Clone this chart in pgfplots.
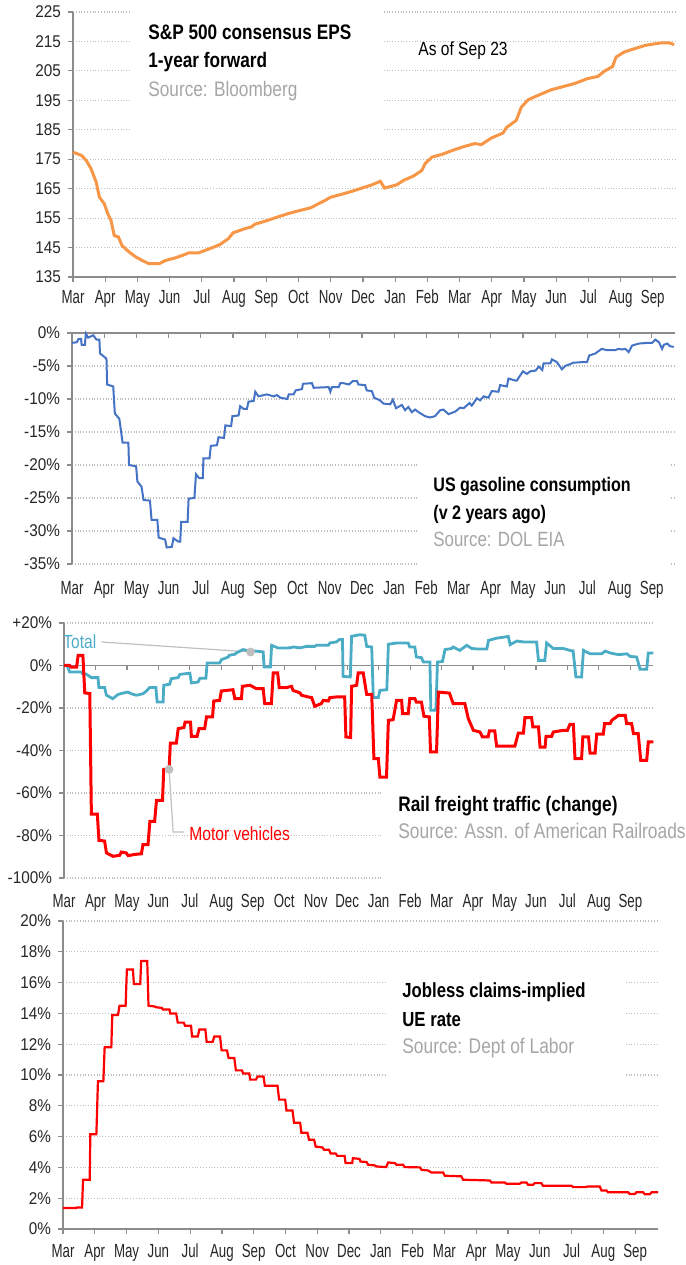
\documentclass[border=0pt]{standalone}
\usepackage{fontspec}
\setmainfont[FakeStretch=0.82]{Liberation Sans}
\newfontfamily\xtickfont[FakeStretch=0.7]{Liberation Sans}
\newfontfamily\ytickfont[FakeStretch=0.9]{Liberation Sans}
\usepackage{pgfplots}
\pgfplotsset{compat=1.18}
\definecolor{axgray}{HTML}{8C8C8C}
\definecolor{gridgray}{HTML}{BDBDBD}
\definecolor{epsorange}{HTML}{F79646}
\definecolor{gasblue}{HTML}{4472C4}
\definecolor{railteal}{HTML}{4BACC6}
\definecolor{srcgray}{HTML}{A6A6A6}
\definecolor{ticktext}{HTML}{262626}
\definecolor{leadgray}{HTML}{BFBFBF}
\pgfplotsset{
  panel/.style={
    scale only axis, anchor=south west, xmin=0, xmax=18.72,
    xtick={0,...,18},
    xticklabels={Mar,Apr,May,Jun,Jul,Aug,Sep,Oct,Nov,Dec,Jan,Feb,Mar,Apr,May,Jun,Jul,Aug,Sep},
    ymajorgrids, major grid style={densely dotted, gridgray, line width=0.6pt},
    tick align=outside, major tick length=2.5pt,
    every tick/.style={axgray, line width=0.6pt},
    axis line style={axgray, line width=0.65pt},
    xticklabel style={font=\xtickfont\fontsize{9.5}{11}\selectfont, text=ticktext},
    yticklabel style={font=\ytickfont\fontsize{8.5}{10}\selectfont, text=ticktext},
    axis y line*=left, axis x line*=bottom,
    clip=false,
  },
  hiddenx/.style={x axis line style={draw=none}, xtick style={draw=none}},
}
\begin{document}
\begin{tikzpicture}
\useasboundingbox (0,0) rectangle (343pt,632.5pt);
% ---------------- Panel 1: EPS
\begin{axis}[panel, at={(36.5pt,494pt)}, width=301.5pt, height=132.5pt,
  xticklabel shift=0.5pt,
  ymin=135, ymax=225, ytick={135,145,...,225},
  yticklabels={135,145,155,165,175,185,195,205,215,225}]
\fill[white] (axis cs:1.76,227.4) rectangle (axis cs:9.59,179.8);
\addplot[epsorange, line width=1.5pt] coordinates {
(0,177.4) (0.26,176.3) (0.41,174.6) (0.56,171.8) (0.72,167.2) (0.82,162.1) (0.97,159.9) (1.08,156.5) (1.18,154.2) (1.28,149.1) (1.41,148.6) (1.52,145.7) (1.74,143.5) (1.95,141.8) (2.15,140.6) (2.36,139.5) (2.67,139.5) (2.87,140.6) (3.18,141.5) (3.49,142.7) (3.59,143.2) (3.9,143.2) (4.31,144.9) (4.56,146) (4.82,148) (4.97,150) (5.33,151.4) (5.54,152) (5.64,152.9) (5.95,153.9) (6.36,155.4) (6.67,156.5) (6.97,157.4) (7.38,158.5) (7.59,159.7) (7.79,160.8) (8.0,162.1) (8.31,163.0) (8.66,164.1) (8.97,165.2) (9.28,166.3) (9.54,167.5) (9.67,165.2) (10.05,166.3) (10.26,167.8) (10.57,169.3) (10.83,171.2) (10.93,173.5) (11.14,175.7) (11.44,176.6) (11.86,178.3) (12.17,179.4) (12.47,180.3) (12.68,180.0) (12.99,182.2) (13.35,183.9) (13.45,185.7) (13.76,188.2) (13.92,192.7) (14.13,195.2) (14.44,196.7) (14.85,198.6) (15.16,199.5) (15.57,200.7) (15.98,202.4) (16.29,203.1) (16.5,204.9) (16.75,206.5) (16.86,209.7) (17.11,211.4) (17.42,212.5) (17.78,213.7) (18.25,214.5) (18.51,214.5) (18.66,213.9)};
\end{axis}
% ---------------- Panel 2: gasoline
\begin{axis}[panel, hiddenx, at={(36pt,350.5pt)}, width=301.5pt, height=115.5pt,
  xticklabel shift=2.5pt,
  ymin=-35, ymax=0, ytick={-35,-30,...,0},
  yticklabels={-35\%,-30\%,-25\%,-20\%,-15\%,-10\%,-5\%,0\%}]
\fill[white] (axis cs:10.76,-16.97) rectangle (axis cs:18.53,-35.6);
\draw[axgray, line width=0.65pt] (axis cs:0,0) -- (axis cs:18.72,0);
\pgfplotsinvokeforeach{1,...,18}{\draw[axgray, line width=0.6pt] (axis cs:#1,0) -- ++(0pt,-2.5pt);}
\addplot[gasblue, line width=1pt] coordinates {
(0,-1.5) (0.15,-1.4) (0.2,-0.9) (0.28,-0.9) (0.3,-1.8) (0.4,-1.8) (0.43,-0.1) (0.5,-0.7) (0.66,-0.35) (0.76,-1.0) (0.85,-1.0) (0.87,-3.1) (1.0,-3.6) (1.07,-3.9) (1.09,-7.8) (1.28,-8.1) (1.33,-12.2) (1.47,-13.0) (1.57,-16.6) (1.75,-16.6) (1.77,-20.0) (1.99,-20.2) (2.03,-22.5) (2.16,-23.3) (2.22,-25.3) (2.42,-25.4) (2.47,-28.3) (2.65,-28.3) (2.69,-31.0) (2.89,-31.3) (2.94,-32.5) (3.1,-32.4) (3.15,-31.1) (3.3,-31.6) (3.36,-31.6) (3.39,-28.6) (3.59,-28.6) (3.62,-25.1) (3.8,-25.0) (3.85,-21.4) (3.95,-22.0) (4.06,-22.0) (4.08,-19.0) (4.27,-19.0) (4.31,-17.1) (4.5,-17.0) (4.55,-15.8) (4.72,-15.9) (4.76,-14.0) (4.94,-14.1) (4.98,-12.6) (5.17,-12.5) (5.22,-11.1) (5.33,-11.5) (5.43,-11.5) (5.48,-10.4) (5.64,-10.3) (5.69,-8.9) (5.79,-9.6) (6.05,-9.3) (6.26,-9.6) (6.36,-9.4) (6.47,-9.8) (6.68,-10.0) (6.73,-9.3) (6.88,-9.3) (6.94,-8.7) (7.14,-8.5) (7.17,-7.7) (7.45,-7.6) (7.5,-8.3) (7.97,-8.2) (8.02,-8.9) (8.07,-8.2) (8.28,-8.2) (8.33,-7.6)
(8.42,-7.6) (8.6,-7.8) (8.71,-7.3) (8.85,-7.3) (8.89,-7.8) (9.1,-7.9) (9.15,-8.7) (9.31,-8.8) (9.38,-9.8) (9.56,-10.2) (9.67,-10.7) (9.88,-10.8) (9.96,-10.1) (10.06,-11.4) (10.24,-10.9) (10.34,-11.7) (10.44,-11.2) (10.55,-12.0) (10.65,-11.6) (10.76,-12.0) (10.96,-12.6) (11.11,-12.8) (11.27,-12.6) (11.43,-11.7) (11.53,-11.6) (11.69,-12.3) (11.9,-11.9) (12.05,-11.3) (12.16,-11.4) (12.34,-10.6) (12.41,-11.0) (12.57,-9.9) (12.67,-10.2) (12.78,-9.6) (12.93,-9.8) (13.03,-8.8) (13.24,-8.9) (13.29,-7.9) (13.5,-8.1) (13.55,-6.9) (13.76,-7.2) (13.81,-7.2) (14.0,-5.8) (14.12,-6.2) (14.23,-5.8) (14.39,-5.7) (14.49,-5.1) (14.6,-5.6) (14.64,-4.6) (14.85,-4.6) (14.9,-4.0) (15.05,-4.4) (15.21,-5.5) (15.31,-5.0) (15.47,-4.7) (15.57,-4.5) (15.88,-4.4) (15.99,-4.4) (16.06,-3.4) (16.25,-3.1) (16.3,-2.9) (16.45,-2.4) (16.6,-2.6) (16.86,-2.6) (16.97,-2.4) (17.07,-2.5) (17.18,-2.4) (17.28,-2.9) (17.39,-1.9) (17.6,-1.6) (17.86,-1.5) (18.01,-1.5) (18.11,-1.0) (18.22,-1.4) (18.32,-2.4) (18.37,-1.8) (18.48,-1.6) (18.56,-2.0) (18.68,-2.1)};
\end{axis}
% ---------------- Panel 3: rail
\begin{axis}[panel, hiddenx, at={(32pt,193.5pt)}, width=294.5pt, height=127.5pt,
  xticklabel shift=2pt,
  ymin=-100, ymax=20, ytick={-100,-80,...,20},
  yticklabels={-100\%,-80\%,-60\%,-40\%,-20\%,0\%,+20\%}]
\fill[white] (axis cs:10.11,-46.8) rectangle (axis cs:19.78,-101.4);
\draw[axgray, line width=0.65pt] (axis cs:0,0) -- (axis cs:18.72,0);
\pgfplotsinvokeforeach{1,...,18}{\draw[axgray, line width=0.6pt] (axis cs:#1,0) -- ++(0pt,-2.5pt);}
\draw[leadgray, line width=0.6pt] (axis cs:1.19,11.06) -- (axis cs:5.93,6.35);
\draw[leadgray, line width=0.6pt] (axis cs:3.34,-48.9) -- (axis cs:3.47,-78.4) -- (axis cs:3.82,-78.4);
\addplot[railteal, line width=1.4pt] coordinates {
(0,0) (0.1,0) (0.18,-3.1) (0.55,-3.1) (0.6,-4.0) (0.7,-4.0) (0.87,-5.7) (1.08,-5.7) (1.11,-10.4) (1.29,-10.4) (1.35,-14.0) (1.55,-15.6) (1.72,-13.6) (1.87,-13.0) (2.03,-12.5) (2.14,-13.3) (2.3,-14.0) (2.51,-13.3) (2.62,-12.0) (2.72,-10.4) (2.92,-10.4) (2.96,-17.2) (3.15,-17.2) (3.17,-9.3) (3.36,-8.8) (3.41,-6.2) (3.63,-5.7) (3.68,-4.2) (4.0,-3.6) (4.05,-8.2) (4.26,-7.8) (4.32,-6.0) (4.51,-6.0) (4.55,1.2) (4.95,1.2) (5.0,2.7) (5.22,4.0) (5.25,4.8) (5.43,5.3) (5.48,5.9) (5.69,7.5) (6.01,6.4) (6.07,6.8) (6.33,6.4) (6.36,-0.7) (6.56,-0.7) (6.6,9.5) (6.81,8.2) (7.18,8.3) (7.29,8.7) (7.5,8.3) (7.71,9.0) (7.97,9.0) (8.02,9.5) (8.4,9.5) (8.45,10.6) (8.66,11.1) (8.75,12.2) (8.85,12.2) (8.87,-5.1) (9.1,-5.4) (9.14,13.7) (9.4,14.5) (9.56,14.2) (9.62,9.0) (9.78,8.7) (9.83,-15.1) (9.99,-15.1) (10.04,-11.7) (10.26,-11.4) (10.31,10.0) (10.57,10.6) (10.94,10.6) (10.99,8.7) (11.15,8.7) (11.2,4.0) (11.36,3.7) (11.42,1.6) (11.63,1.6) (11.66,-21.1) (11.82,-21.1) (11.87,1.6) (12.03,1.9) (12.11,7.5) (12.32,8.0) (12.37,8.7) (12.58,7.1) (12.8,9.5) (12.96,8.0) (13.12,7.8) (13.44,7.8) (13.49,11.8) (13.76,12.9) (13.97,13.3) (14.12,13.7) (14.18,9.8) (14.39,11.5) (14.6,11.1) (15.02,11.1) (15.08,2.4) (15.28,2.4) (15.34,10.6) (15.55,8.0) (15.87,8.0) (16.13,6.9) (16.18,6.9) (16.27,-5.4) (16.45,-5.4) (16.51,7.1) (16.72,5.5) (17.09,5.5) (17.2,6.8) (17.36,5.9) (17.62,5.1) (17.89,5.5) (17.99,4.3) (18.2,4.0) (18.31,-1.8) (18.52,-1.8) (18.57,5.9) (18.73,5.9)};
\addplot[red, line width=1.5pt] coordinates {
(0,0) (0.18,0) (0.23,-0.8) (0.4,-0.8) (0.45,4.8) (0.6,4.8) (0.66,-12.9) (0.82,-13.2) (0.87,-70) (1.06,-70) (1.11,-82.3) (1.29,-82.6) (1.35,-88.2) (1.56,-89.8) (1.77,-89.3) (1.82,-87.8) (1.98,-88.2) (2.04,-89.5) (2.25,-88.9) (2.46,-88.6) (2.51,-84.3) (2.67,-84.3) (2.73,-73.3) (2.88,-73.3) (2.94,-63.5) (3.13,-63.5) (3.17,-48.9) (3.34,-48.9) (3.38,-36.5) (3.57,-36.5) (3.63,-29.7) (3.81,-29.2) (3.85,-26.6) (4.02,-26.6) (4.05,-33.3) (4.23,-33.3) (4.29,-29.7) (4.47,-29.7) (4.53,-24.2) (4.72,-24.2) (4.76,-16.7) (4.95,-16.4) (5.0,-12.0) (5.37,-11.4) (5.43,-15.6) (5.64,-15.6) (5.67,-9.8) (5.91,-9.3) (6.12,-10.9) (6.33,-10.9) (6.38,-18.0) (6.59,-18.0) (6.65,-3.5) (6.79,-3.5) (6.84,-10.4) (7.07,-10.4) (7.23,-9.8) (7.28,-11.7) (7.5,-12.9) (7.55,-14.0) (7.76,-14.8) (7.87,-15.1) (7.97,-19.2) (8.18,-17.9) (8.24,-16.4) (8.4,-16.7) (8.45,-15.1) (8.66,-14.8) (8.92,-14.8) (8.96,-33.6) (9.11,-33.9) (9.14,-9.8) (9.3,-9.3) (9.35,-3.5) (9.51,-3.5) (9.62,-13.6) (9.78,-13.6) (9.85,-43.8) (9.99,-43.8) (10.04,-52.5) (10.25,-52.5) (10.31,-25.8) (10.46,-25.5) (10.57,-16.4) (10.73,-16.4) (10.76,-22.7) (10.94,-22.7) (10.99,-15.6) (11.15,-15.6) (11.2,-17.2) (11.36,-17.2) (11.44,-23.9) (11.61,-24.2) (11.65,-40.7) (11.84,-40.7) (11.9,-12.5) (12.25,-13.0) (12.37,-18.0) (12.74,-18.0) (12.85,-25.0) (13.01,-30.5) (13.22,-31.3) (13.3,-33.6) (13.48,-33.6) (13.52,-30.8) (13.69,-30.8) (13.75,-37.9) (14.33,-37.9) (14.44,-31.8) (14.6,-31.8) (14.65,-24.5) (14.86,-24.5) (14.9,-28.9) (15.08,-28.9) (15.13,-38.4) (15.29,-38.4) (15.32,-33.3) (15.5,-33.3) (15.55,-31.3) (15.87,-30.5) (16.0,-30.5) (16.08,-27.7) (16.19,-27.7) (16.24,-43.8) (16.45,-43.8) (16.49,-33.6) (16.67,-33.6) (16.72,-41.2) (16.88,-41.2) (16.93,-32.3) (17.14,-32.3) (17.18,-27.3) (17.36,-27.3) (17.41,-25.8) (17.62,-23.5) (17.84,-23.5) (17.88,-27.3) (18.04,-27.3) (18.1,-32.1) (18.25,-32.1) (18.33,-44.6) (18.52,-44.6) (18.57,-36.0) (18.73,-36.0)};
\addplot[only marks, mark=*, mark size=2pt, color=leadgray] coordinates {(5.93,6.35) (3.34,-48.9)};
\end{axis}
% ---------------- Panel 4: jobless
\begin{axis}[panel, at={(31.5pt,18pt)}, width=297.5pt, height=154pt,
  xticklabel shift=1.5pt,
  ymin=0, ymax=20, ytick={0,2,...,20},
  yticklabels={0\%,2\%,4\%,6\%,8\%,10\%,12\%,14\%,16\%,18\%,20\%}]
\fill[white] (axis cs:10.16,17.34) rectangle (axis cs:17.68,9.03);
\addplot[red, line width=1.1pt] coordinates {
(0,1.36) (0.42,1.36) (0.44,1.4) (0.6,1.4) (0.63,3.2) (0.84,3.2) (0.86,6.15) (1.05,6.15) (1.1,9.6) (1.27,9.6) (1.31,11.8) (1.52,11.8) (1.55,13.9) (1.73,13.9) (1.78,14.5) (1.97,14.5) (2.01,16.85) (2.2,16.85) (2.23,15.9) (2.43,15.9) (2.46,17.4) (2.65,17.4) (2.69,14.5) (2.88,14.45) (2.93,14.4) (3.12,14.35) (3.14,14.25) (3.35,14.25) (3.37,14.0) (3.56,14.0) (3.61,13.4) (3.8,13.4) (3.84,13.2) (4.03,13.2) (4.06,12.5) (4.24,12.5) (4.29,12.95) (4.48,12.95) (4.52,12.15) (4.71,12.15) (4.76,12.5) (4.94,12.5) (4.99,11.6) (5.16,11.6) (5.21,11.1) (5.39,11.1) (5.44,10.3) (5.63,10.3) (5.67,10.1) (5.86,10.1) (5.89,9.7) (6.07,9.7) (6.12,9.9) (6.31,9.9) (6.35,9.3) (6.75,9.3) (6.8,8.4) (6.99,8.4) (7.03,7.7) (7.22,7.7) (7.27,6.9) (7.46,6.9) (7.5,6.25) (7.69,6.25) (7.74,5.8) (7.9,5.8) (7.95,5.35) (8.16,5.3) (8.21,5.15) (8.37,5.15) (8.42,4.9) (8.58,4.9) (8.63,4.75) (8.86,4.75) (8.89,4.28) (9.1,4.28) (9.12,4.6) (9.33,4.55) (9.36,4.38) (9.55,4.35) (9.6,4.17) (9.81,4.13) (9.86,4.06) (10.17,4.02) (10.23,4.32) (10.44,4.28) (10.49,4.17) (10.7,4.17) (10.75,4.02) (11.23,4.0) (11.28,3.84) (11.49,3.8) (11.59,3.67) (11.96,3.67) (12.01,3.46) (12.53,3.42) (12.59,3.2) (13.43,3.15) (13.48,3.02) (13.9,3.02) (13.95,2.94) (14.37,2.94) (14.42,3.02) (14.58,3.02) (14.63,2.87) (14.79,2.87) (14.84,2.98) (15.05,2.98) (15.1,2.81) (16.0,2.81) (16.05,2.72) (16.42,2.72) (16.52,2.76) (16.89,2.76) (16.94,2.5) (17.1,2.5) (17.15,2.38) (17.78,2.38) (17.83,2.27) (17.99,2.27) (18.04,2.38) (18.25,2.38) (18.31,2.25) (18.46,2.25) (18.52,2.38) (18.72,2.38)};
\end{axis}
% ---------------- Text
\node[anchor=base west, inner sep=0pt, font=\fontsize{10.5}{12}\selectfont\bfseries] at (74pt,612.5pt) {S\&P 500 consensus EPS};
\node[anchor=base west, inner sep=0pt, font=\fontsize{10.5}{12}\selectfont\bfseries] at (74pt,598.5pt) {1-year forward};
\node[anchor=base west, inner sep=0pt, font=\fontsize{10.5}{12}\selectfont, text=srcgray] at (74pt,584pt) {Source: Bloomberg};
\node[anchor=base west, inner sep=0pt, font=\fontsize{9.5}{11}\selectfont] at (209pt,604.5pt) {As of Sep 23};

\node[anchor=base west, inner sep=0pt, font=\fontsize{9.8}{12}\selectfont\bfseries] at (216.5pt,386.5pt) {US gasoline consumption};
\node[anchor=base west, inner sep=0pt, font=\fontsize{9.8}{12}\selectfont\bfseries] at (216.5pt,372.5pt) {(v 2 years ago)};
\node[anchor=base west, inner sep=0pt, font=\fontsize{10.3}{12}\selectfont, text=srcgray] at (216.5pt,359pt) {Source: DOL EIA};

\node[anchor=base west, inner sep=0pt, font=\fontsize{10.5}{12}\selectfont\bfseries] at (199pt,226.5pt) {Rail freight traffic (change)};
\node[anchor=base west, inner sep=0pt, font=\fontsize{10.6}{12}\selectfont, text=srcgray] at (199pt,213pt) {Source: Assn. of American Railroads};
\node[anchor=base west, inner sep=0pt, font=\fontsize{9.5}{11}\selectfont, text=railteal] at (31.5pt,308pt) {Total};
\node[anchor=base west, inner sep=0pt, font=\fontsize{9.5}{11}\selectfont, text=red] at (94.5pt,212pt) {Motor vehicles};

\node[anchor=base west, inner sep=0pt, font=\fontsize{10.2}{12}\selectfont\bfseries] at (201pt,133.5pt) {Jobless claims-implied};
\node[anchor=base west, inner sep=0pt, font=\fontsize{10.2}{12}\selectfont\bfseries] at (201pt,119pt) {UE rate};
\node[anchor=base west, inner sep=0pt, font=\fontsize{10.6}{12}\selectfont, text=srcgray] at (201pt,105.5pt) {Source: Dept of Labor};
\end{tikzpicture}
\end{document}
